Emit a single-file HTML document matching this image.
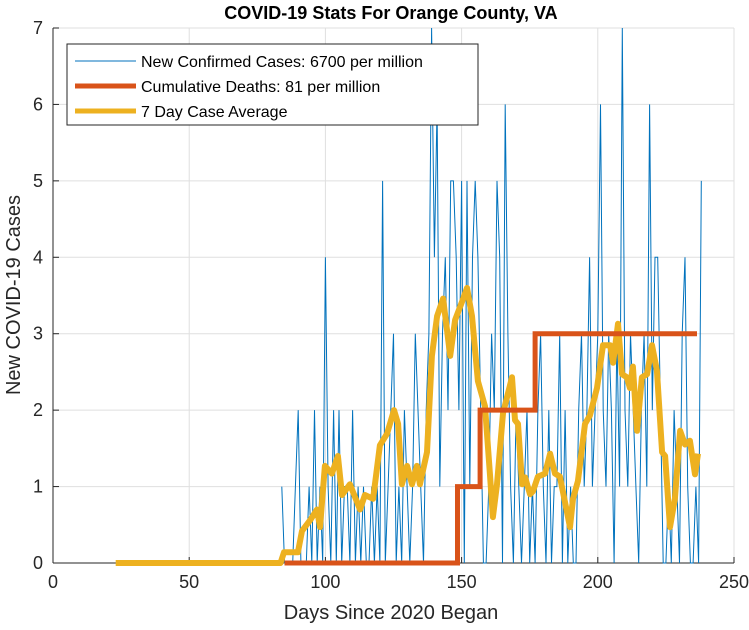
<!DOCTYPE html>
<html><head><meta charset="utf-8"><style>
body{margin:0;background:#fff}
svg{display:block;font-family:"Liberation Sans",Arial,sans-serif}
</style></head><body>
<svg id="chart" width="749" height="630" viewBox="0 0 749 630">
<rect width="749" height="630" fill="#fff"/>
<text x="391" y="19" text-anchor="middle" font-size="18" font-weight="bold" fill="#000">COVID-19 Stats For Orange County, VA</text>
<g id="grid"></g><g id="axes"></g><g id="series"></g>
<text x="391" y="619" text-anchor="middle" font-size="20" fill="#262626">Days Since 2020 Began</text>
<text transform="translate(20,295) rotate(-90)" text-anchor="middle" font-size="20" fill="#262626">New COVID-19 Cases</text>
<g>
<rect x="67" y="44" width="411" height="81" fill="#fff" stroke="#262626" stroke-width="1"/>
<line x1="75" y1="61" x2="136" y2="61" stroke="#0072BD" stroke-width="1"/>
<text x="141" y="67" font-size="16" fill="#000">New Confirmed Cases: 6700 per million</text>
<line x1="75" y1="86" x2="136" y2="86" stroke="#D95319" stroke-width="5"/>
<text x="141" y="92" font-size="16" fill="#000">Cumulative Deaths: 81 per million</text>
<line x1="75" y1="111" x2="136" y2="111" stroke="#EDB120" stroke-width="5"/>
<text x="141" y="117" font-size="16" fill="#000">7 Day Case Average</text>
</g>
</svg>
<script>
const xTicks=[0,50,100,150,200,250];
const yTicks=[0,1,2,3,4,5,6,7];
const caseStartDay=84;
const dailyCases=[1,0,0,0,0,1,2,0,0,0,1,0,2,0,1,0,
4,1,0,2,0,2,0,1,1,0,2,0,1,0,1,0,
0,1,0,1,0,5,0,1,2,3,0,1,0,2,1,0,
1,3,2,1,0,2,3,7,4,6,1,3,4,2,5,5,
4,2,5,0,5,1,4,5,4,2,0,0,1,3,2,5,
4,0,6,3,1,0,2,1,0,1,2,0,1,0,2,3,
1,0,2,0,1,1,3,0,2,0,1,0,0,2,3,1,
2,4,1,2,3,6,2,1,3,2,0,3,1,7,2,1,
3,2,1,0,2,3,1,6,2,4,4,2,0,0,1,0,
2,1,0,3,4,1,0,0,1,0,5];
const deathDays=[85,148.5,148.5,156.8,156.8,177,177,236.4];
const deathVals=[0,0,1,1,2,2,3,3];
const avgDays=[23,83.5,84.8,89.9,91.4,94.4,96.9,98,99.8,102.4,104.6,106.1,109,112.7,114.5,117.5,120,122.6,125.2,126.7,128.1,130,131.8,133.6,134.7,137.3,139.1,141,143.2,145.8,147.6,150.2,152,153.8,156,158.6,160.4,161.5,163,165.2,168.5,169.6,170.7,172.2,173.3,175.1,176.2,178,180.6,182.5,184.3,186.1,189.8,190.9,192.7,195.3,197.1,199.7,201.9,204.5,205.6,207.4,208.9,210.7,211.8,212.9,214.4,216.2,218.1,219.9,221.7,223.6,224.7,226.5,228.3,230.2,232,233.8,235.7,236.8];
const avgVals=[0,0,0.14,0.14,0.42,0.56,0.7,0.47,1.27,1.17,1.4,0.89,1.03,0.7,0.89,0.84,1.54,1.69,2.0,1.82,1.03,1.27,1.03,1.27,1.03,1.45,2.71,3.23,3.46,2.71,3.18,3.42,3.6,3.23,2.38,2.05,1.17,0.6,1.03,1.96,2.43,1.87,1.82,1.03,1.12,0.9,0.94,1.13,1.17,1.43,1.17,1.13,0.47,0.84,1.07,1.82,1.93,2.29,2.85,2.85,2.62,3.13,2.47,2.43,2.29,2.57,1.73,2.43,2.47,2.85,2.52,1.45,1.4,0.47,0.84,1.73,1.55,1.6,1.16,1.43];
const X0=53,X1=734,Y0=563,Y1=28;
const xs=d=>X0+(d-0)/(250-0)*(X1-X0);
const ys=v=>Y0-(v-0)/(7-0)*(Y0-Y1);
const NS="http://www.w3.org/2000/svg";
function mk(tag,attrs,parent){const e=document.createElementNS(NS,tag);for(const k in attrs)e.setAttribute(k,attrs[k]);parent.appendChild(e);return e;}
const grid=document.getElementById('grid'),axes=document.getElementById('axes'),ser=document.getElementById('series');
xTicks.forEach(t=>{
 const g=mk('line',{x1:xs(t),x2:xs(t),y1:Y1,y2:Y0,stroke:'#dfdfdf','stroke-width':1},grid);
 
 
 mk('line',{x1:xs(t),x2:xs(t),y1:Y0,y2:Y0-6,stroke:'#262626'},axes);
 const l=mk('text',{x:xs(t),y:Y0+25,'text-anchor':'middle','font-size':18,fill:'#262626'},axes);
 l.textContent=t;
 
 
});
yTicks.forEach(t=>{
 const g=mk('line',{x1:X0,x2:X1,y1:ys(t),y2:ys(t),stroke:'#dfdfdf','stroke-width':1},grid);
 
 
 mk('line',{x1:X0,x2:X0+6,y1:ys(t),y2:ys(t),stroke:'#262626'},axes);
 const l=mk('text',{x:X0-10,y:ys(t)+6,'text-anchor':'end','font-size':18,fill:'#262626'},axes);
 l.textContent=t;
 
 
});
mk('line',{x1:X0,x2:X0,y1:Y1,y2:Y0,stroke:'#262626'},axes);
mk('line',{x1:X0,x2:X1,y1:Y0,y2:Y0,stroke:'#262626'},axes);
const pts=(ds,vs)=>ds.map((d,i)=>xs(d).toFixed(1)+','+ys(vs[i]).toFixed(1)).join(' ');
const cd=dailyCases.map((v,i)=>caseStartDay+i);
const c=mk('polyline',{points:pts(cd,dailyCases),fill:'none',stroke:'#0072BD','stroke-width':1},ser);


const a=mk('polyline',{points:pts(avgDays,avgVals),fill:'none',stroke:'#EDB120','stroke-width':6,'stroke-linejoin':'round'},ser);


const d=mk('polyline',{points:pts(deathDays,deathVals),fill:'none',stroke:'#D95319','stroke-width':5},ser);


</script>
</body></html>
